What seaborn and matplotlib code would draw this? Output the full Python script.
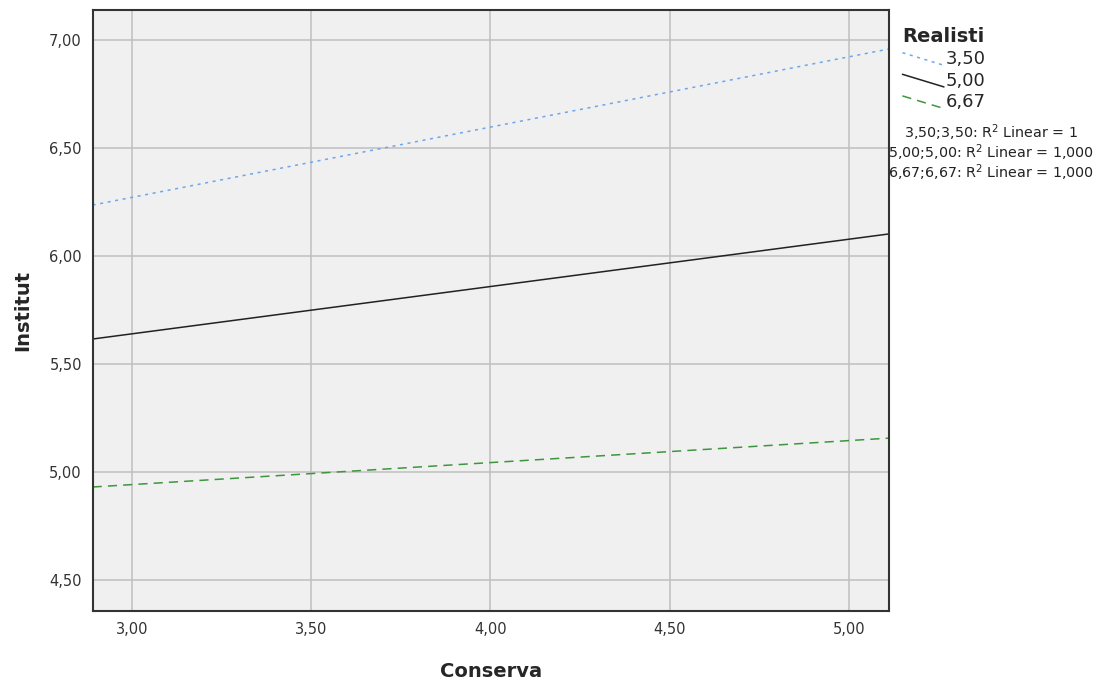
import numpy as np
import pandas as pd
import matplotlib
matplotlib.use("Agg")
import matplotlib.pyplot as plt
from matplotlib.ticker import FuncFormatter, FixedLocator
from matplotlib.legend_handler import HandlerLine2D
import seaborn as sns

# values (fit lines at the x-axis ends)
conserva = [2.89, 5.11]
realisti_levels = ["3,50", "5,00", "6,67"]
institut_350 = [6.236, 6.958]
institut_500 = [5.616, 6.102]
institut_667 = [4.931, 5.157]
r2_labels = ["3,50;3,50: R$^2$ Linear = 1",
             "5,00;5,00: R$^2$ Linear = 1,000",
             "6,67;6,67: R$^2$ Linear = 1,000"]

df = pd.DataFrame({
    "Conserva": conserva * 3,
    "Institut": institut_350 + institut_500 + institut_667,
    "Realisti": [lv for lv in realisti_levels for _ in conserva],
})

colors = {"3,50": "#6ea6ec", "5,00": "#222222", "6,67": "#3d963d"}
dashes = {"3,50": (2, 3), "5,00": "", "6,67": (6, 4)}

sns.set_style("whitegrid", {"axes.facecolor": "#f0f0f0", "grid.color": "#bfbfbf",
                            "axes.edgecolor": "#333333"})
plt.rcParams["font.family"] = ["DejaVu Sans"]

fig = plt.figure(figsize=(11.11, 6.81), dpi=100)
ax = fig.add_axes([93 / 1111, 70 / 681, 796 / 1111, 601 / 681])

sns.lineplot(data=df, x="Conserva", y="Institut", hue="Realisti", style="Realisti",
             palette=colors, dashes=dashes, linewidth=1.1, ax=ax, legend=False)

ax.set_xlim(2.891, 5.112)
ax.set_ylim(4.357, 7.139)
ax.xaxis.set_major_locator(FixedLocator([3.0, 3.5, 4.0, 4.5, 5.0]))
ax.yaxis.set_major_locator(FixedLocator([4.5, 5.0, 5.5, 6.0, 6.5, 7.0]))
fmt = FuncFormatter(lambda v, p: "{:.2f}".format(v).replace(".", ","))
ax.xaxis.set_major_formatter(fmt)
ax.yaxis.set_major_formatter(fmt)
ax.tick_params(labelsize=10.5, colors="#333333", length=0, pad=8)
ax.grid(True, linewidth=1.1)
for s in ax.spines.values():
    s.set_linewidth(1.5)
    s.set_color("#333333")

ax.set_xlabel("Conserva", fontsize=14, fontweight="bold", labelpad=18)
ax.set_ylabel("Institut", fontsize=14, fontweight="bold", labelpad=12)


class DiagHandler(HandlerLine2D):
    def create_artists(self, legend, orig_handle, xdescent, ydescent, width, height, fontsize, trans):
        line = matplotlib.lines.Line2D([0, width], [height * 0.9, -height * 0.1])
        self.update_prop(line, orig_handle, legend)
        line.set_transform(trans)
        return [line]


handles = []
for lv in realisti_levels:
    ln = matplotlib.lines.Line2D([], [], color=colors[lv], linewidth=1.1)
    if dashes[lv]:
        ln.set_dashes(dashes[lv])
    handles.append(ln)

leg = fig.legend(handles, realisti_levels, title="Realisti", loc="upper left",
                 bbox_to_anchor=(888 / 1111, 1 - 13 / 681), frameon=False,
                 fontsize=13, handlelength=2.3, handletextpad=0.1, labelspacing=0.2,
                 borderpad=0.3, handler_map={matplotlib.lines.Line2D: DiagHandler()})
leg.get_title().set_fontweight("bold")
leg.get_title().set_fontsize(14)
leg._legend_box.align = "left"

for i, t in enumerate(r2_labels):
    fig.text(991 / 1111, 1 - (133 + i * 20) / 681, t, ha="center", va="center",
             fontsize=10.3, color="#222222")

fig.savefig("out.png", dpi=100, facecolor="white")
